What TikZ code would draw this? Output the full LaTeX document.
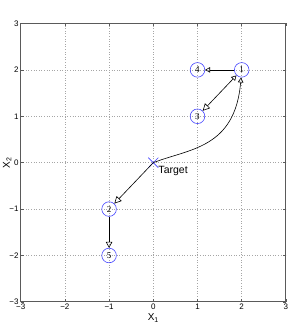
\documentclass[tikz,border=0pt]{standalone}
\usepackage{fontspec}
\setmainfont{Liberation Sans}
\newfontfamily\numfont{Liberation Serif}
\usetikzlibrary{arrows.meta}
\definecolor{mblue}{RGB}{70,70,255}
\definecolor{axgray}{RGB}{90,90,90}
\begin{document}
\begin{tikzpicture}[x=44.2pt,y=46.4pt,
  state/.style={circle,draw=mblue,line width=0.6pt,minimum size=14.6pt,inner sep=0pt,font=\numfont\fontsize{9}{9}\selectfont},
  conn/.style={line width=0.6pt,black},
  gridline/.style={gray!70,line width=0.5pt,dash pattern=on 0.6pt off 2pt},
  axisline/.style={axgray,line width=0.8pt},
  ticklab/.style={inner sep=0pt,font=\fontsize{8}{8}\selectfont},
  bigtip/.style={-{Triangle[open,length=7pt,width=7pt]}},
  smalltip/.style={-{Triangle[open,length=5pt,width=5.5pt]}}]
\useasboundingbox (-3.468,-3.455) rectangle (3.115,3.506);
% grid
\foreach \v in {-2,...,2} {
  \draw[gridline] (\v,-3) -- (\v,3);
  \draw[gridline] (-3,\v) -- (3,\v);
}
% box and ticks
\draw[axisline] (-3,-3) rectangle (3,3);
\foreach \v in {-3,...,3} {
  \draw[axisline,line width=0.6pt] (\v,-3) -- ++(0,3pt);
  \draw[axisline,line width=0.6pt] (\v,3) -- ++(0,-3pt);
  \draw[axisline,line width=0.6pt] (-3,\v) -- ++(3pt,0);
  \draw[axisline,line width=0.6pt] (3,\v) -- ++(-3pt,0);
}
\foreach \v/\t in {-3/−3,-2/−2,-1/−1,0/0,1/1,2/2,3/3} {
  \node[ticklab,anchor=north] (xl\v) at ([yshift=-1.5pt]\v,-3) {\t};
  \node[ticklab,anchor=east] (yl\v) at ([xshift=-2pt]-3,\v) {\t};
}
\node[font=\fontsize{10}{10}\selectfont,inner sep=0pt] (xlab) at ([yshift=-16pt]0,-3) {X\textsubscript{1}};
\node[font=\fontsize{10}{10}\selectfont,inner sep=0pt,rotate=90] (ylab) at ([xshift=-13.5pt]-3,0) {X\textsubscript{2}};
% target
\coordinate (T) at (0,0);
\draw[mblue,line width=0.6pt] (T) ++(-5pt,-5pt) -- ++(10pt,10pt) (T) ++(-5pt,5pt) -- ++(10pt,-10pt);
\node[anchor=west,inner sep=0pt,font=\fontsize{10.5}{10.5}\selectfont] (tlab) at ([xshift=5pt,yshift=-7.8pt]T) {Target};
% states
\node[state] (n1) at (2,2) {1};
\node[state] (n4) at (1,2) {4};
\node[state] (n3) at (1,1) {3};
\node[state] (n2) at (-1,-1) {2};
\node[state] (n5) at (-1,-2) {5};
% connectors
\draw[conn,smalltip] (n1) -- (n4);
\draw[conn,{Triangle[open,length=7pt,width=7pt]}-{Triangle[open,length=5pt,width=5.5pt]}] (n3) -- (n1);
\draw[conn,smalltip] (T) .. controls (0.8,0.3) and (1.85,0.3) .. (n1);
\draw[conn,bigtip] (T) -- (n2);
\draw[conn,-{Triangle[open,length=6pt,width=6.5pt]}] (n2) -- (n5);
\end{tikzpicture}
\end{document}
